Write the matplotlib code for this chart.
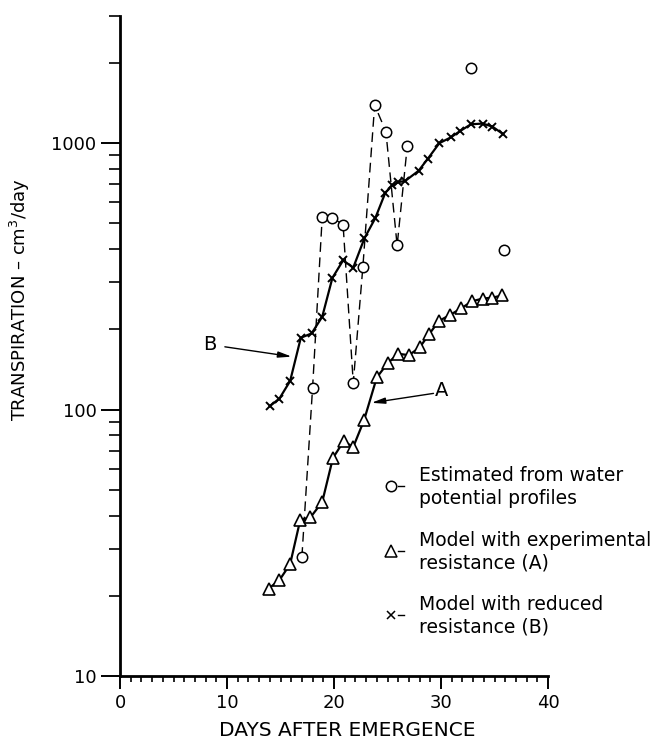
import matplotlib
matplotlib.use("Agg")
import matplotlib.pyplot as plt
from matplotlib.lines import Line2D
from matplotlib.ticker import FixedLocator, NullFormatter, FixedFormatter

# ---- data ----
circ_days = [17.0, 18.0, 18.9, 19.85, 20.85, 21.8, 22.7, 23.8, 24.85, 25.9, 26.85]
circ_vals = [28, 121, 530, 525, 494, 126, 344, 1390, 1105, 413, 977]
circ_extra_days = [32.8, 35.85]
circ_extra_vals = [1920, 398]

B_days = [14.0, 14.9, 15.9, 16.9, 17.9, 18.9, 19.85, 20.85, 21.8, 22.85, 23.85, 24.8,
          25.45, 26.0, 26.65, 27.9, 28.75, 29.85, 30.9, 31.8, 32.8, 33.9, 34.8, 35.8]
B_vals = [103, 110, 128, 186, 193, 223, 312, 363, 341, 440, 522, 652,
          694, 714, 721, 787, 872, 1000, 1050, 1111, 1177, 1184, 1154, 1081]

A_days = [13.9, 14.9, 15.9, 16.85, 17.8, 18.9, 19.9, 20.9, 21.8, 22.8, 24.0, 25.0,
          26.0, 27.0, 28.0, 28.9, 29.8, 30.8, 31.9, 32.9, 33.9, 34.8, 35.7]
A_vals = [21.3, 22.9, 26.3, 38.6, 39.4, 45, 65.8, 76, 72.4, 91, 132, 149,
          162, 160, 171, 192, 215, 226, 240, 255, 261, 263, 268]

x_ticks = [0, 10, 20, 30, 40]
x_ticklabels = ["0", "10", "20", "30", "40"]
y_ticks = [10, 100, 1000]
y_ticklabels = ["10", "100", "1000"]
y_minor = [20, 30, 40, 50, 60, 70, 80, 90, 200, 300, 400, 500, 600, 700, 800, 900, 2000, 3000]

legend_labels = [("Estimated from water", "potential profiles"),
                 ("Model with experimental", "resistance (A)"),
                 ("Model with reduced", "resistance (B)")]

plt.rcParams['font.family'] = ['DejaVu Sans']
W, H = 662, 749
fig = plt.figure(figsize=(W / 100, H / 100), dpi=100)
ax = fig.add_axes([120 / W, (H - 676) / H, 428 / W, 660 / H])

ax.set_yscale('log')
ax.set_xlim(0, 40)
ax.set_ylim(10, 3000)

# dashed estimated series
ax.plot(circ_days, circ_vals, linestyle=(0, (7, 4)), color='black', lw=1.0,
        marker='o', markersize=7.5, markerfacecolor='white', markeredgecolor='black',
        markeredgewidth=1.1, zorder=3)
ax.plot(circ_extra_days, circ_extra_vals, linestyle='none', marker='o', markersize=7.5,
        markerfacecolor='white', markeredgecolor='black', markeredgewidth=1.1, zorder=3)

# model B
ax.plot(B_days, B_vals, '-', color='black', lw=1.6, marker='x', markersize=6,
        markeredgewidth=1.4, zorder=4)
# model A
ax.plot(A_days, A_vals, '-', color='black', lw=1.6, marker='^', markersize=9,
        markerfacecolor='white', markeredgecolor='black', markeredgewidth=1.2, zorder=4)

# annotations
arrow = dict(arrowstyle='-|>,head_length=0.8,head_width=0.18', color='black', lw=1.0,
             shrinkA=0, shrinkB=0)
ax.annotate('', xy=(16.05, 158), xytext=(9.8, 172), arrowprops=arrow)
ax.text(8.4, 175, 'B', fontsize=14, ha='center', va='center')
ax.annotate('', xy=(23.5, 106), xytext=(29.3, 115), arrowprops=arrow)
ax.text(30.05, 118, 'A', fontsize=14, ha='center', va='center')

# spines
for s in ['top', 'right']:
    ax.spines[s].set_visible(False)
for s in ['left', 'bottom']:
    ax.spines[s].set_linewidth(2.0)

ax.xaxis.set_major_locator(FixedLocator(x_ticks))
ax.xaxis.set_major_formatter(FixedFormatter(x_ticklabels))
ax.xaxis.set_minor_locator(FixedLocator(list(range(0, 41))))
ax.yaxis.set_major_locator(FixedLocator(y_ticks))
ax.yaxis.set_major_formatter(FixedFormatter(y_ticklabels))
ax.yaxis.set_minor_locator(FixedLocator(y_minor))
ax.yaxis.set_minor_formatter(NullFormatter())

ax.tick_params(axis='x', which='major', direction='out', length=9, width=1.4,
               labelsize=13, pad=4)
ax.tick_params(axis='x', which='minor', direction='out', length=4, width=1.2)
ax.tick_params(axis='y', which='major', direction='out', length=14, width=1.4,
               labelsize=13, pad=3)
ax.tick_params(axis='y', which='minor', direction='out', length=8, width=1.2)

ax.set_xlabel('DAYS AFTER EMERGENCE', fontsize=14.5)
ax.xaxis.set_label_coords(0.53, -0.068)
ax.set_ylabel('TRANSPIRATION – cm$^3$/day', fontsize=13)
ax.yaxis.set_label_coords(-0.205, 0.57)

# legend drawn as text blocks (pixel positions)
def px(x, y):
    return x / W, 1 - y / H

legend_markers = [('o', 7.5, 'white'), ('^', 8.5, 'white'), ('x', 6, 'black')]
legend_y = [486, 551, 615]
for (m, ms, fc), (l1, l2), yc in zip(legend_markers, legend_labels, legend_y):
    mx, my = px(391, yc)
    fig.add_artist(Line2D([mx], [my], marker=m, markersize=ms, markerfacecolor=fc,
                          markeredgecolor='black', markeredgewidth=1.1,
                          transform=fig.transFigure))
    dx0, dy = px(398, yc)
    dx1, _ = px(404, yc)
    fig.add_artist(Line2D([dx0, dx1], [dy, dy], color='black', lw=1.0,
                          transform=fig.transFigure))
    tx, ty1 = px(419, yc - 11)
    _, ty2 = px(419, yc + 12)
    fig.text(tx, ty1, l1, fontsize=13.5, ha='left', va='center')
    fig.text(tx, ty2, l2, fontsize=13.5, ha='left', va='center')

fig.savefig('out.png', dpi=100, facecolor='white')
